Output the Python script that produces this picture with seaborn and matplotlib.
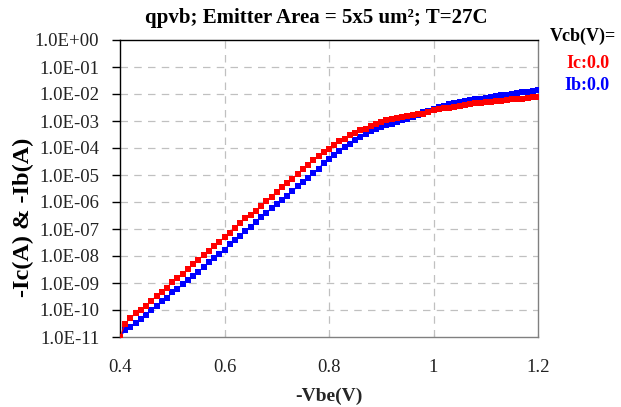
import numpy as np
import pandas as pd
import matplotlib
matplotlib.use("Agg")
import matplotlib.pyplot as plt
import seaborn as sns
from matplotlib.ticker import FixedLocator, FixedFormatter

# ---- data ----
vbe = [round(0.40 + 0.01 * i, 2) for i in range(81)]

ic_log10 = [-11.00, -10.50, -10.30, -10.12, -10.00, -9.86, -9.66, -9.48, -9.32, -9.17,
            -8.96, -8.80, -8.65, -8.48, -8.30, -8.14, -7.96, -7.80, -7.62, -7.49,
            -7.29, -7.15, -6.96, -6.79, -6.59, -6.48, -6.32, -6.13, -5.97, -5.80,
            -5.62, -5.45, -5.30, -5.14, -4.95, -4.79, -4.62, -4.46, -4.30, -4.15,
            -4.02, -3.90, -3.75, -3.65, -3.53, -3.43, -3.34, -3.28, -3.20, -3.10,
            -3.03, -2.97, -2.94, -2.90, -2.87, -2.82, -2.78, -2.74, -2.73, -2.67,
            -2.61, -2.57, -2.53, -2.52, -2.47, -2.45, -2.41, -2.38, -2.35, -2.32,
            -2.31, -2.29, -2.26, -2.25, -2.23, -2.20, -2.19, -2.17, -2.14, -2.11,
            -2.10]

ib_log10 = [-11.00, -10.75, -10.63, -10.48, -10.34, -10.17, -10.00, -9.85, -9.66, -9.54,
            -9.35, -9.23, -9.04, -8.89, -8.73, -8.58, -8.42, -8.24, -8.07, -7.93,
            -7.78, -7.56, -7.41, -7.25, -7.09, -6.91, -6.75, -6.57, -6.42, -6.22,
            -6.09, -5.92, -5.76, -5.60, -5.42, -5.26, -5.10, -4.93, -4.77, -4.55,
            -4.40, -4.27, -4.11, -3.96, -3.84, -3.71, -3.59, -3.49, -3.38, -3.28,
            -3.22, -3.16, -3.10, -3.03, -2.97, -2.91, -2.85, -2.76, -2.68, -2.62,
            -2.55, -2.49, -2.44, -2.38, -2.35, -2.31, -2.25, -2.23, -2.19, -2.17,
            -2.14, -2.11, -2.07, -2.05, -2.03, -1.99, -1.97, -1.94, -1.91, -1.88,
            -1.87]

y_tick_values = [1e-11, 1e-10, 1e-9, 1e-8, 1e-7, 1e-6, 1e-5, 1e-4, 1e-3, 1e-2, 1e-1, 1e0]
y_tick_labels = ["1.0E-11", "1.0E-10", "1.0E-09", "1.0E-08", "1.0E-07", "1.0E-06",
                 "1.0E-05", "1.0E-04", "1.0E-03", "1.0E-02", "1.0E-01", "1.0E+00"]
x_tick_values = [0.4, 0.6, 0.8, 1.0, 1.2]
x_tick_labels = ["0.4", "0.6", "0.8", "1", "1.2"]

df = pd.DataFrame({
    "vbe": vbe * 2,
    "current": list(10 ** np.array(ic_log10)) + list(10 ** np.array(ib_log10)),
    "series": ["Ic"] * len(vbe) + ["Ib"] * len(vbe),
})

# ---- style ----
sns.set_theme(style="white")
plt.rcParams["font.family"] = ["Liberation Serif", "DejaVu Serif"]

fig = plt.figure(figsize=(6.21, 4.07), dpi=100)
ax = fig.add_axes([120 / 621, 70 / 407, 418 / 621, 297 / 407])

colors = {"Ic": "#ff0000", "Ib": "#0000ff"}
for name in ["Ib", "Ic"]:
    sub = df[df["series"] == name]
    sns.lineplot(data=sub, x="vbe", y="current", ax=ax, color=colors[name],
                 marker="s", markersize=4.2, markeredgewidth=0, linewidth=0.8,
                 alpha=1.0, legend=False, zorder=3, estimator=None)

ax.set_yscale("log")
ax.set_xlim(0.4, 1.2)
ax.set_ylim(1e-11, 1e0)

ax.yaxis.set_major_locator(FixedLocator(y_tick_values))
ax.yaxis.set_major_formatter(FixedFormatter(y_tick_labels))
ax.yaxis.set_minor_locator(FixedLocator([]))
ax.xaxis.set_major_locator(FixedLocator(x_tick_values))
ax.xaxis.set_major_formatter(FixedFormatter(x_tick_labels))

# grid
for v in y_tick_values[1:-1]:
    ax.axhline(v, color="#c0c0c0", lw=0.9, ls=(0, (6, 5)), zorder=1)
for v in x_tick_values[1:-1]:
    ax.axvline(v, color="#c0c0c0", lw=0.9, ls=(0, (6, 5)), zorder=1)

# spines
ax.spines["left"].set_color("black")
ax.spines["top"].set_color("black")
ax.spines["right"].set_color("#808080")
ax.spines["bottom"].set_color("#808080")
for s in ax.spines.values():
    s.set_linewidth(1.0)

ax.tick_params(axis="y", which="major", direction="out", length=6, width=1,
               color="black", labelsize=13.5, pad=9, labelcolor="#222222", left=True)
ax.tick_params(axis="x", which="major", direction="in", length=2, width=0.8,
               color="#999999", labelsize=13.5, pad=16, labelcolor="#222222", bottom=True)

ax.set_xlabel("-Vbe(V)", fontsize=14, fontweight="bold", labelpad=8)
ax.set_ylabel("")
fig.text(23 / 621, 1 - 217 / 407, "-Ic(A) & -Ib(A)", rotation=90, ha="center",
         va="center", fontsize=17.5, fontweight="bold", color="black")
fig.text(316 / 621, 1 - 18 / 407, "qpvb; Emitter Area = 5x5 um\u00b2; T=27C",
         ha="center", va="center", fontsize=15, fontweight="bold", color="black")

# legend-like labels
fig.text(616 / 621, 1 - 36 / 407, "Vcb(V)=", ha="right", va="center",
         fontsize=13, fontweight="bold", color="black")
fig.text(610 / 621, 1 - 63 / 407, "Ic:0.0", ha="right", va="center",
         fontsize=13, fontweight="bold", color="#ff0000")
fig.text(610 / 621, 1 - 85 / 407, "Ib:0.0", ha="right", va="center",
         fontsize=13, fontweight="bold", color="#0000ff")

fig.savefig("out.png", dpi=100, facecolor="white")
